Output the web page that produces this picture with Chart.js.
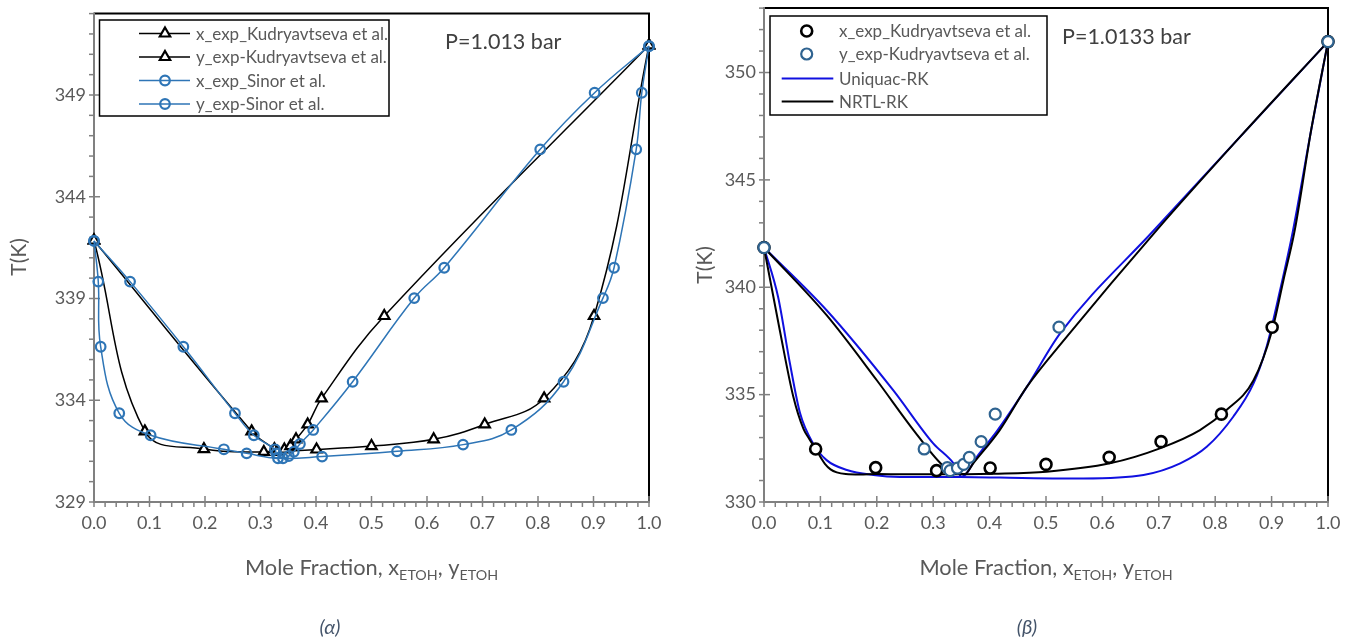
<!DOCTYPE html>
<html><head><meta charset="utf-8">
<script src="https://cdn.jsdelivr.net/npm/chart.js@4.4.1/dist/chart.umd.min.js"></script>
<style>
html,body{margin:0;padding:0;background:#fff;}
#wrap{position:relative;width:1358px;height:639px;overflow:hidden;background:#fff;}
canvas{position:absolute;top:0;}
</style></head><body>
<div id="wrap">
<canvas id="cA" width="679" height="639" style="left:0px"></canvas>
<canvas id="cB" width="679" height="639" style="left:679px"></canvas>
</div>
<script>
// ---------- tick labels ----------
const xMajorTicks = [0, 0.1, 0.2, 0.3, 0.4, 0.5, 0.6, 0.7, 0.8, 0.9, 1.0];
const yTicksA = [329, 334, 339, 344, 349];
const yTicksB = [330, 335, 340, 345, 350];

// ---------- Kudryavtseva et al. (both panels) ----------
const kudLiqX = [0, 0.0916, 0.198, 0.306, 0.401, 0.500, 0.612, 0.704, 0.811, 0.901, 1.0];
const kudVapY = [0, 0.284, 0.325, 0.330, 0.343, 0.354, 0.364, 0.385, 0.410, 0.523, 1.0];
const kudT    = [341.85, 332.47, 331.60, 331.46, 331.58, 331.75, 332.08, 332.81, 334.09, 338.14, 351.44];

// ---------- Sinor et al. (panel α) ----------
const sinLiqX = [0, 0.0077, 0.012, 0.0455, 0.102, 0.234, 0.275, 0.3315, 0.411, 0.546, 0.665, 0.752, 0.846, 0.917, 0.937, 0.977, 0.987, 1.0];
const sinLiqT = [341.83, 339.83, 336.63, 333.36, 332.28, 331.59, 331.39, 331.15, 331.23, 331.49, 331.82, 332.54, 334.91, 339.02, 340.51, 346.33, 349.11, 351.40];
const sinVapY = [0, 0.065, 0.161, 0.254, 0.288, 0.326, 0.3285, 0.3405, 0.351, 0.360, 0.371, 0.395, 0.466, 0.577, 0.631, 0.804, 0.902, 1.0];
const sinVapT = [341.83, 339.83, 336.63, 333.36, 332.28, 331.59, 331.39, 331.15, 331.26, 331.47, 331.85, 332.54, 334.91, 339.02, 340.51, 346.33, 349.11, 351.40];

// ---------- Model curves (panel β) ----------
const nrtlLiqX = [0, 0.028, 0.052, 0.070, 0.080, 0.092, 0.100, 0.108, 0.118, 0.129, 0.145, 0.170, 0.200, 0.250, 0.306, 0.407, 0.501, 0.613, 0.702, 0.773, 0.820, 0.868, 0.901, 0.921, 0.941, 0.970, 1.0];
const nrtlLiqT = [341.85, 338.00, 334.90, 333.40, 332.95, 332.45, 332.10, 331.78, 331.52, 331.38, 331.30, 331.28, 331.30, 331.29, 331.29, 331.32, 331.41, 331.80, 332.50, 333.35, 334.28, 335.67, 338.00, 340.33, 342.65, 347.30, 351.44];
const nrtlVapY = [0, 0.111, 0.200, 0.265, 0.315, 0.340, 0.356, 0.371, 0.418, 0.466, 0.537, 0.696, 0.844, 1.0];
const nrtlVapT = [341.85, 338.70, 335.67, 333.35, 331.75, 331.30, 331.30, 331.80, 333.35, 335.36, 337.70, 342.65, 347.00, 351.44];
const uniLiqX = [0, 0.025, 0.046, 0.064, 0.087, 0.111, 0.147, 0.194, 0.241, 0.348, 0.418, 0.525, 0.566, 0.673, 0.738, 0.785, 0.832, 0.868, 0.891, 0.915, 0.938, 0.970, 1.0];
const uniLiqT = [341.85, 339.55, 336.45, 334.13, 332.73, 331.95, 331.49, 331.26, 331.17, 331.16, 331.14, 331.10, 331.10, 331.26, 331.80, 332.57, 333.97, 335.52, 337.22, 339.86, 342.65, 347.30, 351.44];
const uniVapY = [0, 0.111, 0.229, 0.300, 0.336, 0.3505, 0.380, 0.413, 0.466, 0.525, 0.693, 1.0];
const uniVapT = [341.85, 338.93, 335.21, 332.73, 331.80, 331.18, 332.20, 333.30, 335.36, 337.85, 342.70, 351.44];

// ---------- styling ----------
const FONT = 'Lato, "Open Sans", sans-serif';
const GREY_TXT = '#595959';
const AXIS_GREY = '#808080';
const SIN_BLUE = '#2E75B6';
const EXP_BLUE = '#2F6390';
const UNI_BLUE = '#1010E0';
Chart.defaults.font.family = FONT;

const pts = (xs, ys) => xs.map((x, i) => ({x: x, y: ys[i]}));

function drawMarker(ctx, style, r, x, y, stroke, fill, bw) {
  ctx.save();
  ctx.strokeStyle = stroke; ctx.fillStyle = fill; ctx.lineWidth = bw;
  ctx.beginPath();
  if (style === 'triangle') {
    for (let k = 0; k < 3; k++) {
      const a = k * 2 * Math.PI / 3;
      const px = x + Math.sin(a) * r, py = y - Math.cos(a) * r;
      if (k === 0) ctx.moveTo(px, py); else ctx.lineTo(px, py);
    }
    ctx.closePath();
  } else {
    ctx.arc(x, y, r, 0, Math.PI * 2);
  }
  ctx.fill(); ctx.stroke();
  ctx.restore();
}

function drawXTitle(ctx, cx, baseY) {
  const parts = [['Mole Fraction, x', 21.8, 0], ['ETOH', 14.3, 5], [', y', 21.8, 0], ['ETOH', 14.3, 5]];
  let total = 0;
  parts.forEach(p => { ctx.font = p[1] + 'px ' + FONT; p.push(ctx.measureText(p[0]).width); total += p[3]; });
  let x = cx - total / 2;
  ctx.fillStyle = GREY_TXT; ctx.textAlign = 'left'; ctx.textBaseline = 'alphabetic';
  parts.forEach(p => { ctx.font = p[1] + 'px ' + FONT; ctx.fillText(p[0], x, baseY + p[2]); x += p[3]; });
}

function decoPlugin(cfg) {
  return {
    id: 'deco' + cfg.name,
    beforeDatasetsDraw(chart) {
      const ctx = chart.ctx, a = chart.chartArea, xs = chart.scales.x, ys = chart.scales.y;
      ctx.save();
      // frame (top + right)
      ctx.strokeStyle = '#000'; ctx.lineWidth = 2;
      ctx.beginPath(); ctx.moveTo(a.left, a.top); ctx.lineTo(a.right, a.top); ctx.lineTo(a.right, a.bottom); ctx.stroke();
      // axis lines
      ctx.strokeStyle = AXIS_GREY; ctx.lineWidth = 2;
      ctx.beginPath(); ctx.moveTo(a.left, a.top - 1); ctx.lineTo(a.left, a.bottom); ctx.lineTo(a.right + 1, a.bottom); ctx.stroke();
      ctx.lineWidth = 1.5;
      // x ticks: major every 0.1, minor every 0.02
      for (let i = 0; i <= 50; i++) {
        const px = xs.getPixelForValue(i / 50);
        const major = i % 5 === 0;
        ctx.beginPath(); ctx.moveTo(px, major ? a.bottom - 6 : a.bottom); ctx.lineTo(px, a.bottom + 5); ctx.stroke();
      }
      // y ticks: major labelled, minor every 1 K
      for (let v = ys.min; v <= ys.max + 1e-9; v++) {
        const py = ys.getPixelForValue(v);
        const major = cfg.yTicks.indexOf(v) >= 0;
        ctx.beginPath(); ctx.moveTo(a.left - 5, py); ctx.lineTo(major ? a.left + 6 : a.left, py); ctx.stroke();
      }
      ctx.restore();
    },
    afterDraw(chart) {
      const ctx = chart.ctx, a = chart.chartArea;
      ctx.save();
      // y title
      ctx.save();
      ctx.translate(cfg.yTitleX, cfg.yTitleY); ctx.rotate(-Math.PI / 2);
      ctx.font = '21px ' + FONT; ctx.fillStyle = GREY_TXT; ctx.textAlign = 'center'; ctx.textBaseline = 'middle';
      ctx.fillText('T(K)', 0, 0);
      ctx.restore();
      // x title
      drawXTitle(ctx, (a.left + a.right) / 2, 575);
      // pressure text
      ctx.font = '21.5px ' + FONT; ctx.fillStyle = '#404040'; ctx.textAlign = 'left'; ctx.textBaseline = 'middle';
      ctx.fillText(cfg.pText, cfg.pX, cfg.pY);
      // caption
      ctx.font = 'italic 20px ' + FONT; ctx.fillStyle = '#44546A'; ctx.textAlign = 'center';
      ctx.fillText(cfg.caption, cfg.capX, 628);
      // legend
      const L = cfg.legend;
      ctx.fillStyle = '#fff'; ctx.fillRect(L.x0, L.y0, L.x1 - L.x0, L.y1 - L.y0);
      ctx.strokeStyle = '#000'; ctx.lineWidth = 1.5; ctx.strokeRect(L.x0, L.y0, L.x1 - L.x0, L.y1 - L.y0);
      L.items.forEach((it, i) => {
        const y = L.rows[i];
        if (it.line) {
          ctx.strokeStyle = it.line; ctx.lineWidth = it.lw;
          ctx.beginPath(); ctx.moveTo(L.lineX0, y); ctx.lineTo(L.lineX1, y); ctx.stroke();
        }
        if (it.marker) drawMarker(ctx, it.marker, it.r, L.markX, y, it.mStroke, it.mFill, it.mbw);
        ctx.font = '17px ' + FONT; ctx.fillStyle = GREY_TXT; ctx.textAlign = 'left'; ctx.textBaseline = 'middle';
        ctx.fillText(it.label, L.textX, y + 1);
      });
      ctx.restore();
    }
  };
}

function scalesFor(yMin, yMax, yTicks, yWidth, xHeight) {
  return {
    x: {
      type: 'linear', min: 0, max: 1,
      afterBuildTicks: s => { s.ticks = xMajorTicks.map(v => ({value: v})); },
      afterFit: s => { s.height = xHeight; s.paddingLeft = 0; s.paddingRight = 0; },
      ticks: {callback: v => Number(v).toFixed(1), color: GREY_TXT, font: {size: 18, family: FONT}, padding: 10, maxRotation: 0, autoSkip: false},
      grid: {display: false, drawTicks: false},
      border: {display: false}
    },
    y: {
      type: 'linear', min: yMin, max: yMax,
      afterBuildTicks: s => { s.ticks = yTicks.map(v => ({value: v})); },
      afterFit: s => { s.width = yWidth; s.paddingTop = 0; s.paddingBottom = 0; },
      ticks: {callback: v => String(v), color: GREY_TXT, font: {size: 18, family: FONT}, padding: 8, autoSkip: false},
      grid: {display: false, drawTicks: false},
      border: {display: false}
    }
  };
}

// ---------- Panel α ----------
const dsA = [
  {label: 'y_exp-Sinor et al.', data: pts(sinVapY, sinVapT), order: 0},
  {label: 'x_exp_Sinor et al.', data: pts(sinLiqX, sinLiqT), order: 1},
].map(d => Object.assign(d, {showLine: true, borderColor: SIN_BLUE, borderWidth: 1.5, tension: 0.4,
  pointStyle: 'circle', pointRadius: 4.8, pointBorderWidth: 2.2, pointBorderColor: SIN_BLUE, pointBackgroundColor: 'rgba(0,0,0,0)', clip: false}))
.concat([
  {label: 'y_exp-Kudryavtseva et al.', data: pts(kudVapY, kudT), order: 2},
  {label: 'x_exp_Kudryavtseva et al.', data: pts(kudLiqX, kudT), order: 3},
].map(d => Object.assign(d, {showLine: true, borderColor: '#000', borderWidth: 1.5, tension: 0.4,
  pointStyle: 'triangle', pointRadius: 6, pointBorderWidth: 2.2, pointBorderColor: '#000', pointBackgroundColor: '#fff', clip: false})));

new Chart(document.getElementById('cA'), {
  type: 'scatter',
  data: {datasets: dsA},
  options: {
    responsive: false, animation: false, devicePixelRatio: 1,
    layout: {padding: {left: 0, right: 30, top: 13.6, bottom: 0}},
    plugins: {legend: {display: false}, tooltip: {enabled: false}},
    scales: scalesFor(329, 353, yTicksA, 94, 639 - 502)
  },
  plugins: [decoPlugin({
    name: 'A', yTicks: yTicksA, yTitleX: 19, yTitleY: 257,
    pText: 'P=1.013 bar', pX: 445, pY: 42, caption: '(α)', capX: 330,
    legend: {x0: 99.5, y0: 20, x1: 389, y1: 116, rows: [33.5, 57, 80.5, 104], lineX0: 139, lineX1: 190, markX: 165, textX: 196,
      items: [
        {label: 'x_exp_Kudryavtseva et al.', line: '#000', lw: 1.5, marker: 'triangle', r: 6, mStroke: '#000', mFill: '#fff', mbw: 2.2},
        {label: 'y_exp-Kudryavtseva et al.', line: '#000', lw: 1.5, marker: 'triangle', r: 6, mStroke: '#000', mFill: '#fff', mbw: 2.2},
        {label: 'x_exp_Sinor et al.', line: SIN_BLUE, lw: 1.5, marker: 'circle', r: 4.8, mStroke: SIN_BLUE, mFill: 'rgba(0,0,0,0)', mbw: 2.2},
        {label: 'y_exp-Sinor et al.', line: SIN_BLUE, lw: 1.5, marker: 'circle', r: 4.8, mStroke: SIN_BLUE, mFill: 'rgba(0,0,0,0)', mbw: 2.2}
      ]}
  })]
});

// ---------- Panel β ----------
const dsB = [
  {label: 'y_exp-Kudryavtseva et al.', data: pts(kudVapY, kudT), showLine: false, pointStyle: 'circle', pointRadius: 5.5,
    pointBorderWidth: 2.2, pointBorderColor: EXP_BLUE, pointBackgroundColor: '#fff', order: 0, clip: false},
  {label: 'x_exp_Kudryavtseva et al.', data: pts(kudLiqX, kudT), showLine: false, pointStyle: 'circle', pointRadius: 5.5,
    pointBorderWidth: 2.6, pointBorderColor: '#000', pointBackgroundColor: '#fff', order: 1, clip: false},
  {label: 'NRTL-RK', data: pts(nrtlVapY, nrtlVapT), order: 2, borderColor: '#000'},
  {label: 'NRTL-RK', data: pts(nrtlLiqX, nrtlLiqT), order: 3, borderColor: '#000'},
  {label: 'Uniquac-RK', data: pts(uniVapY, uniVapT), order: 4, borderColor: UNI_BLUE},
  {label: 'Uniquac-RK', data: pts(uniLiqX, uniLiqT), order: 5, borderColor: UNI_BLUE}
].map((d, i) => i < 2 ? d : Object.assign(d, {showLine: true, borderWidth: 2, pointRadius: 0, cubicInterpolationMode: 'monotone', clip: false}));

new Chart(document.getElementById('cB'), {
  type: 'scatter',
  data: {datasets: dsB},
  options: {
    responsive: false, animation: false, devicePixelRatio: 1,
    layout: {padding: {left: 0, right: 30, top: 7.5, bottom: 0}},
    plugins: {legend: {display: false}, tooltip: {enabled: false}},
    scales: scalesFor(330, 353, yTicksB, 85, 639 - 502)
  },
  plugins: [decoPlugin({
    name: 'B', yTicks: yTicksB, yTitleX: 26, yTitleY: 265,
    pText: 'P=1.0133 bar', pX: 383, pY: 37, caption: '(β)', capX: 348,
    legend: {x0: 91, y0: 16, x1: 368, y1: 115, rows: [31, 54, 78.5, 101.5], lineX0: 102.7, lineX1: 154.3, markX: 127.7, textX: 160,
      items: [
        {label: 'x_exp_Kudryavtseva et al.', marker: 'circle', r: 5.5, mStroke: '#000', mFill: '#fff', mbw: 2.6},
        {label: 'y_exp-Kudryavtseva et al.', marker: 'circle', r: 5.5, mStroke: EXP_BLUE, mFill: '#fff', mbw: 2.2},
        {label: 'Uniquac-RK', line: UNI_BLUE, lw: 2},
        {label: 'NRTL-RK', line: '#000', lw: 2}
      ]}
  })]
});
</script>
</body></html>
